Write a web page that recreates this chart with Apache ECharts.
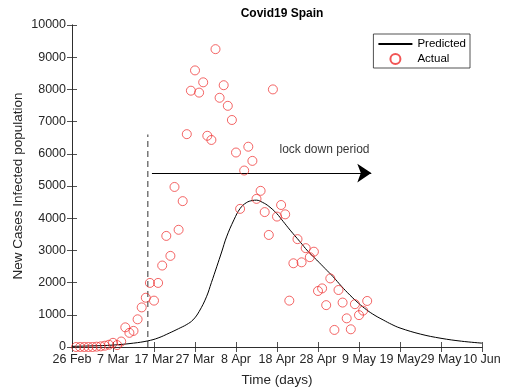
<!DOCTYPE html>
<html>
<head>
<meta charset="utf-8">
<script src="https://cdn.jsdelivr.net/npm/echarts@6/dist/echarts.min.js"></script>
<style>
html,body{margin:0;padding:0;background:#fff;}
#chart{width:506px;height:390px;}
</style>
</head>
<body>
<div id="chart"></div>
<script>
// X tick labels (ticks every 10 days from 26 Feb)
const tickLabels = ['26 Feb','7 Mar','17 Mar','27 Mar','8 Apr','18 Apr','28 Apr','9 May','19 May','29 May','10 Jun'];

// Actual daily new cases (day index from 26 Feb)
const actualDays = [1,2,3,4,5,6,7,8,9,10,11,12,13,14,15,16,17,18,19,20,21,22,23,24,25,26,27,28,29,30,31,32,33,34,35,36,37,38,39,40,41,42,43,44,45,46,47,48,49,50,51,52,53,54,55,56,57,58,59,60,61,62,63,64,65,66,67,68,69,70,71,72];
const actualCases = [0,0,0,0,0,10,20,40,70,130,60,170,610,440,500,860,1230,1530,1990,1440,1990,2530,3450,2830,4970,3640,4530,6610,7960,8590,7900,8220,6560,6430,9250,7740,8130,7490,7050,6040,4290,5480,6220,5780,4600,4850,4190,3480,8000,4050,4410,4120,1440,2600,3350,2630,3070,2790,2960,1740,1820,1300,2130,530,1770,1380,890,550,1330,990,1130,1430];

// Predicted curve
const predDays  = [0,5,10,15,18.5,21,23.7,26,28,29.5,31,32.8,34,35.3,36.5,37.7,39.5,41,42.5,44,45,46.5,48,49.9,51.5,53.2,55.6,57.5,59.7,61.7,63.7,65.7,67.8,69.8,71.9,73.9,75.9,78,80,85,90,95,100];
const predCases = [20,35,60,120,190,280,430,570,700,840,1100,1560,2000,2490,2950,3420,3950,4300,4480,4550,4560,4490,4370,4150,3900,3630,3270,2980,2700,2440,2180,1890,1610,1370,1150,980,840,700,590,400,270,180,120];

// Annotations
const lockdownStartDay = 18.5;
const lockdownLineTop = 6600;
const arrowFrom = [19.5, 5400];
const arrowTo = [73, 5400];
const annotationText = 'lock down period';
const annotationPos = [50.6, 6120];

const chart = echarts.init(document.getElementById('chart'));
const axisColor = '#262626';
const font = 'Liberation Sans, Arial, Helvetica, sans-serif';
const red = '#ee2a2a';
const clear = 'rgba(0,0,0,0)';

const option = {
  animation: false,
  backgroundColor: '#fff',
  textStyle: {fontFamily: font},
  title: {
    text: 'Covid19 Spain',
    left: 277, top: 3, textAlign: 'center',
    textStyle: {fontSize: 12, fontWeight: 'bold', color: '#000', fontFamily: font}
  },
  legend: {
    orient: 'vertical',
    right: 36, top: 34,
    padding: [4, 4, 3, 4],
    itemGap: 3,
    itemWidth: 34, itemHeight: 10,
    borderColor: axisColor, borderWidth: 0.8,
    backgroundColor: '#fff',
    textStyle: {fontSize: 11.5, color: '#000', fontFamily: font},
    data: [
      {name: 'Predicted', itemStyle: {color: clear, borderColor: clear, borderWidth: 0}},
      {name: 'Actual'}
    ]
  },
  grid: {left: 72, right: 24, top: 25, bottom: 43, containLabel: false, outerBoundsMode: 'none'},
  xAxis: [{
    type: 'value', min: 0, max: 100, interval: 10,
    name: 'Time (days)', nameLocation: 'middle', nameGap: 26,
    nameTextStyle: {fontSize: 13.5, color: axisColor, fontFamily: font},
    axisLine: {lineStyle: {color: axisColor, width: 0.8}},
    axisTick: {inside: true, length: 5, lineStyle: {color: axisColor, width: 0.8}},
    axisLabel: {
      fontSize: 12.5, color: axisColor, margin: 6, fontFamily: font,
      formatter: v => tickLabels[Math.round(v / 10)] || ''
    },
    splitLine: {show: false}
  }, {
    type: 'value', min: 0, max: 100, interval: 10, position: 'top',
    axisLine: {lineStyle: {color: axisColor, width: 0.8}},
    axisTick: {inside: true, length: 5, lineStyle: {color: axisColor, width: 0.8}},
    axisLabel: {show: false}, splitLine: {show: false}
  }],
  yAxis: [{
    type: 'value', min: 0, max: 10000, interval: 1000,
    name: 'New Cases Infected population', nameLocation: 'middle', nameGap: 47,
    nameMoveOverlap: false,
    nameTextStyle: {fontSize: 13.5, color: axisColor, fontFamily: font},
    axisLine: {show: true, lineStyle: {color: axisColor, width: 0.8}},
    axisTick: {show: true, inside: true, length: 5, lineStyle: {color: axisColor, width: 0.8}},
    axisLabel: {fontSize: 12.5, color: axisColor, margin: 6, fontFamily: font,
      formatter: v => String(v)},
    splitLine: {show: false}
  }, {
    type: 'value', min: 0, max: 10000, interval: 1000, position: 'right',
    axisLine: {show: true, lineStyle: {color: axisColor, width: 0.8}},
    axisTick: {show: true, inside: true, length: 5, lineStyle: {color: axisColor, width: 0.8}},
    axisLabel: {show: false}, splitLine: {show: false}
  }],
  series: [
    {
      name: 'Predicted', type: 'line', smooth: 0.4,
      symbol: 'circle', showSymbol: false,
      data: predDays.map((d, i) => [d, predCases[i]]),
      lineStyle: {color: '#000', width: 1},
      itemStyle: {color: '#000'}, z: 3
    },
    {
      name: 'Actual', type: 'scatter', symbol: 'circle', symbolSize: 9,
      data: actualDays.map((d, i) => [d, actualCases[i]]),
      itemStyle: {color: 'rgba(255,255,255,0)', borderColor: red, borderWidth: 0.9}, z: 4
    },
    {
      name: 'lockdown', type: 'line', symbol: 'none',
      data: [[lockdownStartDay, 0], [lockdownStartDay, lockdownLineTop]],
      lineStyle: {color: '#333', width: 1, type: [6, 4]}, z: 2
    },
    {
      name: 'arrow', type: 'lines', coordinateSystem: 'cartesian2d',
      symbol: ['none', 'arrow'], symbolSize: [9, 14],
      lineStyle: {color: '#000', width: 1, opacity: 1, curveness: 0},
      data: [{coords: [arrowFrom, arrowTo]}], z: 3
    },
    {
      name: 'note', type: 'scatter', symbolSize: 0,
      data: [annotationPos],
      label: {show: true, position: 'right', distance: 0, formatter: annotationText,
        fontSize: 12, color: '#000', fontFamily: font},
      silent: true
    }
  ]
};
chart.setOption(option);
</script>
</body>
</html>
